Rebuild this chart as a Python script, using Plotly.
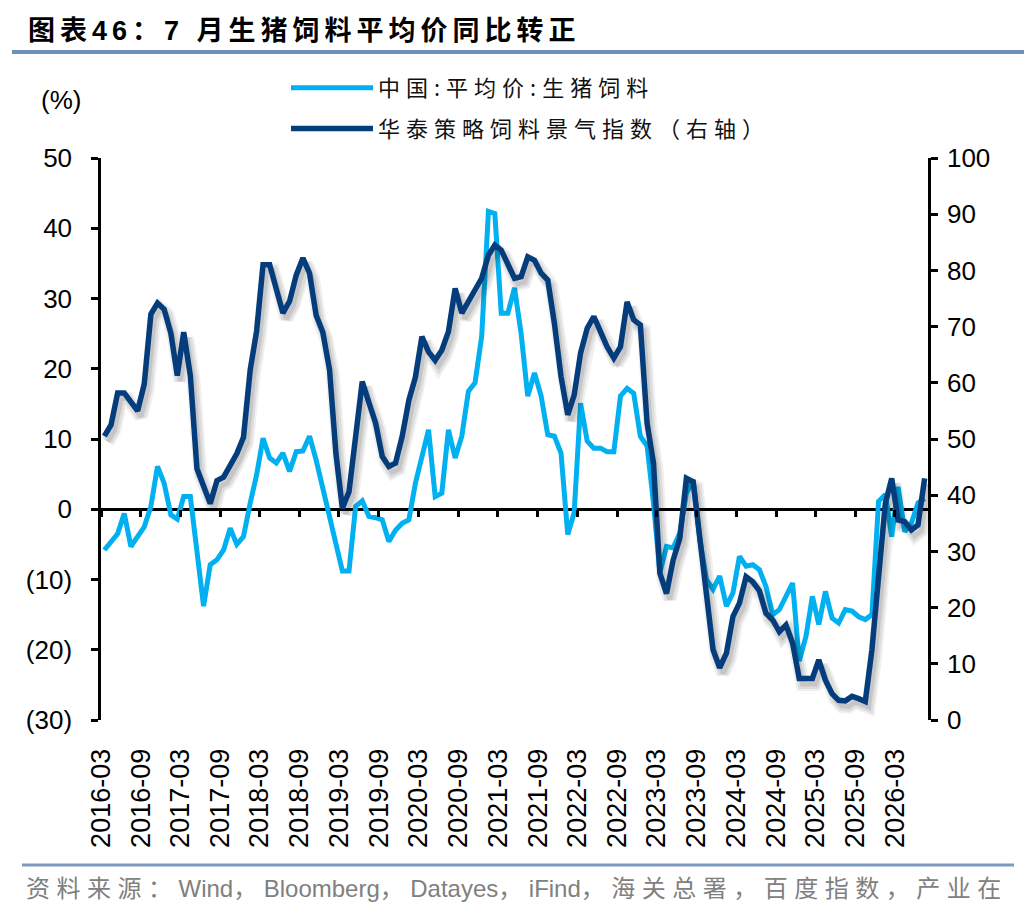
import plotly.graph_objects as go
import pandas as pd

# ---------------- data ----------------
months = pd.date_range("2016-03-01", "2026-07-01", freq="MS").strftime("%Y-%m").tolist()

# 中国:平均价:生猪饲料 (YoY, %, left axis)
feed_price_yoy = [
    -5.8, -4.6, -3.5, -0.6, -5.3, -3.9, -2.5, 0.4, 6.1, 3.7,
    -0.8, -1.4, 1.8, 1.8, -5.5, -13.8, -7.9, -7.2, -5.8, -2.7,
    -5.0, -3.9, 0.9, 4.9, 10.1, 7.3, 6.6, 8.0, 5.4, 8.2,
    8.3, 10.4, 7.0, 3.0, -1.5, -5.3, -8.8, -8.8, 0.4, 1.2,
    -1.0, -1.2, -1.5, -4.6, -3.0, -2.0, -1.5, 3.7, 7.7, 11.3,
    1.8, 2.3, 11.3, 7.3, 10.4, 16.8, 18.0, 24.6, 42.4, 42.1,
    27.9, 27.9, 31.5, 25.0, 16.1, 19.4, 16.1, 10.6, 10.4, 8.0,
    -3.6, -0.5, 15.1, 9.7, 8.7, 8.7, 8.2, 8.2, 16.1, 17.2,
    16.5, 10.4, 9.0, 0.9, -9.0, -5.3, -5.5, -3.4, 2.3, 4.2,
    -4.3, -10.0, -11.4, -9.5, -13.8, -11.9, -6.7, -8.1, -7.9, -8.6,
    -11.0, -15.0, -14.3, -12.5, -10.5, -21.6, -18.1, -12.4, -16.4, -11.7,
    -15.5, -16.2, -14.3, -14.5, -15.3, -15.7, -15.0, 1.1, 2.1, -3.9,
    3.2, -3.2, -2.0, 0.9, 1.5,
]

# 华泰策略饲料景气指数 (right axis)
feed_index = [
    50.5, 52.5, 58.2, 58.2, 56.6, 55.0, 59.8, 72.2, 74.2, 73.1,
    68.8, 61.3, 69.0, 61.3, 44.7, 41.7, 38.5, 42.6, 43.2, 45.3,
    47.4, 50.3, 62.3, 69.2, 81.0, 81.0, 76.9, 72.4, 74.5, 79.2,
    82.2, 79.5, 72.0, 69.0, 62.3, 47.4, 37.7, 40.6, 50.4, 60.2,
    56.5, 52.8, 46.9, 45.1, 45.7, 50.4, 56.9, 61.0, 68.2, 65.5,
    64.0, 65.8, 69.1, 76.8, 72.4, 74.4, 76.5, 78.6, 82.7, 84.5,
    83.6, 81.3, 78.6, 78.9, 82.4, 81.8, 79.5, 78.3, 70.6, 61.1,
    54.3, 57.8, 65.3, 69.7, 71.8, 69.1, 66.4, 64.4, 66.4, 74.4,
    71.2, 70.3, 52.8, 45.7, 26.1, 22.5, 28.5, 32.3, 43.0, 42.4,
    32.6, 23.7, 12.5, 9.3, 11.9, 18.4, 20.8, 25.5, 24.6, 23.0,
    19.0, 17.8, 15.7, 16.9, 13.7, 7.4, 7.4, 7.4, 10.7, 7.1,
    4.7, 3.5, 3.4, 4.2, 3.8, 3.3, 12.5, 24.9, 38.5, 43.0,
    35.6, 35.3, 33.8, 34.7, 43.0,
]

x_tick_labels = ["2016-03", "2016-09", "2017-03", "2017-09", "2018-03", "2018-09",
                 "2019-03", "2019-09", "2020-03", "2020-09", "2021-03", "2021-09",
                 "2022-03", "2022-09", "2023-03", "2023-09", "2024-03", "2024-09",
                 "2025-03", "2025-09", "2026-03"]
left_tick_vals = [-30, -20, -10, 0, 10, 20, 30, 40, 50]
left_tick_text = ["(30)", "(20)", "(10)", "0", "10", "20", "30", "40", "50"]
right_tick_vals = [0, 10, 20, 30, 40, 50, 60, 70, 80, 90, 100]
right_tick_text = ["0", "10", "20", "30", "40", "50", "60", "70", "80", "90", "100"]

name_price = "中国:平均价:生猪饲料"
name_index = "华泰策略饲料景气指数（右轴）"
title_text = "图表46：7 月生猪饲料平均价同比转正"
source_text = "资料来源：Wind，Bloomberg，Datayes，iFind，海关总署，百度指数，产业在"

# ---------------- layout helpers ----------------
OFF = 8                      # page body margin
FIG_W, FIG_H = 1036 - OFF, 916 - OFF
PL, PT, W, H = 101, 158, 827, 562     # plot area in page pixels
L, T = PL - OFF, PT - OFF
LEFT_RANGE = [-30, 50]
RIGHT_RANGE = [0, 100]
X_RANGE = ["2016-03-01", "2026-08-01"]


def px(x):
    return (x - PL) / W


def py(y):
    return (PT + H - y) / H


def spaced(txt, sp):
    return '<span style="letter-spacing:%spx">%s</span>' % (sp, txt)


def cjk_spaced(txt, sp):
    out, run, is_cjk = [], "", None
    for ch in txt:
        c = ord(ch) > 0x2E80
        if is_cjk is None or c == is_cjk:
            run += ch
        else:
            out.append(spaced(run, sp) if is_cjk else run)
            run = ch
        is_cjk = c
    out.append(spaced(run, sp) if is_cjk else run)
    return "".join(out)


LIGHT = "#00B0F0"
DARK = "#053D7C"
CJK = "Noto Sans CJK SC"
LAT = "Liberation Sans, Noto Sans CJK SC"

fig = go.Figure()

fig.add_trace(go.Scatter(
    x=months, y=feed_price_yoy, xperiod="M1", xperiodalignment="middle",
    mode="lines", line=dict(color=LIGHT, width=5),
    name=spaced(name_price, 6), legendgroup="a", yaxis="y", hoverinfo="skip"))

# carrier for the zero-line tick axis
fig.add_trace(go.Scatter(
    x=months, y=feed_price_yoy, xperiod="M1", xperiodalignment="middle",
    mode="lines", line=dict(width=0), opacity=0, showlegend=False,
    xaxis="x2", yaxis="y", hoverinfo="skip"))

# soft shadow under the index line (half a month right, ~1 unit down)
shadow_dy = 1.0
shadow_y = [v - shadow_dy for v in feed_index]
for w, a in [(14, 0.06), (10, 0.08), (5, 0.10)]:
    fig.add_trace(go.Scatter(
        x=months, y=shadow_y, xperiod="M1", xperiodalignment="end",
        mode="lines", line=dict(color="rgba(0,0,0,%s)" % a, width=w),
        showlegend=False, yaxis="y2", hoverinfo="skip"))

fig.add_trace(go.Scatter(
    x=months, y=feed_index, xperiod="M1", xperiodalignment="middle",
    mode="lines", line=dict(color=DARK, width=5.5),
    name=spaced(name_index, 6), legendgroup="b", yaxis="y2", hoverinfo="skip"))

axis_common = dict(showgrid=False, color="#000000")
x_tick_vals = [m + "-01" for m in x_tick_labels]

fig.update_layout(
    width=FIG_W, height=FIG_H,
    margin=dict(l=L, r=FIG_W - L - W, t=T, b=FIG_H - T - H, pad=0),
    paper_bgcolor="white", plot_bgcolor="white",
    hovermode=False,
    xaxis=dict(type="date", range=X_RANGE, tickvals=x_tick_vals, ticktext=x_tick_labels,
               tickangle=-90, tickfont=dict(family=LAT, size=27, color="#000"),
               ticks="outside", ticklen=17, tickcolor="rgba(0,0,0,0)",
               showline=False, zeroline=False, **axis_common),
    xaxis2=dict(type="date", range=X_RANGE, overlaying="x", anchor="free",
                position=(0 - LEFT_RANGE[0]) / (LEFT_RANGE[1] - LEFT_RANGE[0]),
                tickvals=x_tick_vals, showticklabels=False,
                ticks="outside", ticklen=7, tickwidth=2.5, tickcolor="#000",
                showline=False, zeroline=False, **axis_common),
    yaxis=dict(range=LEFT_RANGE, tickvals=left_tick_vals, ticktext=left_tick_text,
               tickfont=dict(family=LAT, size=26, color="#000"),
               ticks="outside", ticklen=7, tickwidth=2.5, tickcolor="#000",
               ticklabelstandoff=14,
               showline=True, linewidth=2.5, linecolor="#000",
               zeroline=True, zerolinecolor="#000", zerolinewidth=2.5, **axis_common),
    yaxis2=dict(range=RIGHT_RANGE, overlaying="y", side="right", anchor="x",
                tickvals=right_tick_vals, ticktext=right_tick_text,
                tickfont=dict(family=LAT, size=26, color="#000"),
                ticks="outside", ticklen=7, tickwidth=2.5, tickcolor="#000",
                ticklabelstandoff=4,
                showline=True, linewidth=2.5, linecolor="#000",
                zeroline=False, **axis_common),
    showlegend=True,
    legend=dict(x=px(286), y=py(67), xanchor="left", yanchor="top",
                xref="paper", yref="paper",
                font=dict(family=CJK, size=22, color="#111"),
                bgcolor="rgba(0,0,0,0)", itemwidth=82, tracegroupgap=9,
                traceorder="grouped", orientation="v"),
    annotations=[
        dict(text="<b>" + spaced(title_text, 5) + "</b>", x=px(26), y=py(31),
             xref="paper", yref="paper", xanchor="left", yanchor="middle", showarrow=False,
             font=dict(family="Liberation Sans Narrow, Liberation Sans, Noto Sans CJK SC",
                       size=27, color="#000")),
        dict(text="(%)", x=px(61), y=py(100), xref="paper", yref="paper",
             xanchor="center", yanchor="middle", showarrow=False,
             font=dict(family=LAT, size=26, color="#000")),
        dict(text=cjk_spaced(source_text, 6.5), x=px(24), y=py(888),
             xref="paper", yref="paper", xanchor="left", yanchor="middle", showarrow=False,
             font=dict(family=LAT, size=24, color="#808080")),
    ],
    shapes=[
        dict(type="line", xref="paper", yref="paper", x0=px(12), x1=px(1024),
             y0=py(52), y1=py(52), line=dict(color="#6F8FBF", width=4)),
        dict(type="line", xref="paper", yref="paper", x0=px(22), x1=px(1014),
             y0=py(865), y1=py(865), line=dict(color="#7F99C0", width=3)),
    ],
)

fig.write_html("out.html")
